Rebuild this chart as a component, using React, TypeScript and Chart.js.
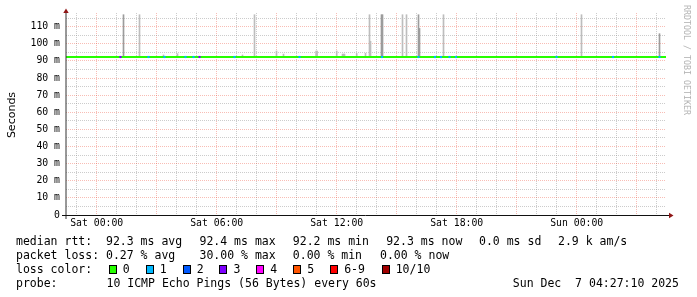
import React, { useEffect, useRef } from "react";
import { Chart, registerables } from "chart.js";

Chart.register(...registerables);

// ---------- data (hours relative to Sat 00:00, values in seconds) ----------
const rangeStartHour = -1.535;
const rangeEndHour = 28.465;

const xLabelHours = [0, 6, 12, 18, 24];
const xTickLabels = ["Sat 00:00", "Sat 06:00", "Sat 12:00", "Sat 18:00", "Sun 00:00"];

const yLabelValues = [0, 0.01, 0.02, 0.03, 0.04, 0.05, 0.06, 0.07, 0.08, 0.09, 0.1, 0.11];
const yTickLabels = ["0", "10 m", "20 m", "30 m", "40 m", "50 m", "60 m", "70 m", "80 m", "90 m", "100 m", "110 m"];
const yAxisMax = 0.118;

const medianHours = [-1.535, 6, 12, 18, 24, 28.465];
const medianSeconds = [0.0923, 0.0923, 0.0923, 0.0923, 0.0923, 0.0923];

const smokeDarkHours = [1.34, 14.24, 14.29, 16.09, 16.14, 28.14];
const smokeDarkLow = [0.0925, 0.0925, 0.0925, 0.0925, 0.0925, 0.0925];
const smokeDarkHigh = [0.117, 0.117, 0.117, 0.117, 0.109, 0.1059];

const smokeLightHours = [2.14, 3.34, 4.04, 7.29, 7.89, 8.99, 9.34, 10.97, 11.02, 12.0, 12.29, 12.34, 12.39, 13.0, 13.44, 13.64, 13.69, 15.29, 15.49, 17.34, 24.24];
const smokeLightLow = [0.0925, 0.0925, 0.0925, 0.0925, 0.0925, 0.0925, 0.0925, 0.0925, 0.0925, 0.0925, 0.0925, 0.0925, 0.0925, 0.0925, 0.0925, 0.0925, 0.0925, 0.0925, 0.0925, 0.0925, 0.0925];
const smokeLightHigh = [0.117, 0.0935, 0.0942, 0.0935, 0.117, 0.0958, 0.094, 0.0958, 0.0958, 0.0958, 0.094, 0.094, 0.094, 0.0943, 0.0945, 0.117, 0.1015, 0.117, 0.117, 0.117, 0.117];

const lossHours = [1.19, 2.59, 3.39, 4.44, 4.84, 5.14, 6.89, 10.14, 14.265, 16.09, 16.915, 17.215, 17.64, 17.965, 22.99, 25.815, 28.14];
const lossCounts = [3, 1, 1, 1, 1, 3, 1, 1, 1, 1, 1, 1, 1, 1, 1, 1, 1];
const lossMedian = [0.0923, 0.0923, 0.0923, 0.0923, 0.0923, 0.0923, 0.0923, 0.0923, 0.0923, 0.0923, 0.0923, 0.0923, 0.0923, 0.0923, 0.0923, 0.0923, 0.0923];

const lossColorLabels = ["0", "1", "2", "3", "4", "5", "6-9", "10/10"];
const lossColorHex = ["#26ff00", "#00b8ff", "#0059ff", "#7e00ff", "#ff00ff", "#ff5500", "#ff0000", "#a10000"];

const rttLegend = ["median rtt:  92.3 ms avg", "92.4 ms max", "92.2 ms min", "92.3 ms now", "0.0 ms sd", "2.9 k am/s"];
const lossLegend = ["packet loss: 0.27 % avg", "30.00 % max", "0.00 % min", "0.00 % now"];
const lossColorTitle = "loss color:";
const probeTitle = "probe:";
const probeText = "10 ICMP Echo Pings (56 Bytes) every 60s";
const dateText = "Sun Dec  7 04:27:10 2025";
const yTitle = "Seconds";
const watermark = "RRDTOOL / TOBI OETIKER";

// ---------- layout ----------
const W = 697;
const H = 297;
const MONO = '"DejaVu Sans Mono", monospace';
const GRID_GRAY = "rgba(143,143,143,0.45)";
const GRID_RED = "rgba(233,49,26,0.32)";

const rttX = [16, 199.5, 292.8, 386.2, 479, 558];
const lossX = [16, 199.5, 292.8, 380];
const boxX = [108.5, 145.5, 182.5, 219.2, 256, 293, 330, 381.5];

function lossIndex(c: number) {
  if (c >= 10) return 7;
  if (c >= 6) return 6;
  return c;
}

const axesPlugin = {
  id: "rrdAxes",
  afterDatasetsDraw(chart: any) {
    const { ctx, chartArea } = chart;
    const l = chartArea.left;
    const b = chartArea.bottom;
    const r = chartArea.right;
    const t = chartArea.top;
    ctx.save();
    ctx.strokeStyle = "#333";
    ctx.lineWidth = 1;
    ctx.beginPath();
    ctx.moveTo(l, b + 4);
    ctx.lineTo(l, t);
    ctx.stroke();
    ctx.strokeStyle = "#111";
    ctx.beginPath();
    ctx.moveTo(l - 4, b + 0.5);
    ctx.lineTo(r + 3, b + 0.5);
    ctx.stroke();
    ctx.fillStyle = "#8f1515";
    ctx.beginPath();
    ctx.moveTo(l, t - 4.5);
    ctx.lineTo(l - 2.7, t);
    ctx.lineTo(l + 2.7, t);
    ctx.closePath();
    ctx.fill();
    ctx.beginPath();
    ctx.moveTo(r + 7.5, b + 0.5);
    ctx.lineTo(r + 3, b - 2.3);
    ctx.lineTo(r + 3, b + 3.3);
    ctx.closePath();
    ctx.fill();
    ctx.restore();
  },
};

function ChartCanvas() {
  const ref = useRef<HTMLCanvasElement | null>(null);
  useEffect(() => {
    if (!ref.current) return;
    const medianData = medianHours.map((h, i) => ({ x: h, y: medianSeconds[i] }));
    const darkData = smokeDarkHours.map((h, i) => ({ x: h, y: [smokeDarkLow[i], smokeDarkHigh[i]] }));
    const lightData = smokeLightHours.map((h, i) => ({ x: h, y: [smokeLightLow[i], smokeLightHigh[i]] }));
    const lossData = lossHours.map((h, i) => ({ x: h, y: lossMedian[i] }));
    const lossColors = lossCounts.map((c) => lossColorHex[lossIndex(c)]);

    const chart = new Chart(ref.current, {
      type: "bar",
      data: {
        datasets: [
          {
            type: "scatter",
            data: lossData,
            pointStyle: "rect",
            pointRadius: 1.5,
            pointHoverRadius: 1.5,
            pointBackgroundColor: lossColors,
            pointBorderWidth: 0,
            order: 0,
          } as any,
          {
            type: "line",
            data: medianData,
            borderColor: "#26ff00",
            borderWidth: 2,
            pointRadius: 0,
            tension: 0,
            order: 1,
          } as any,
          {
            type: "bar",
            data: darkData,
            backgroundColor: "#9c9c9c",
            barThickness: 1,
            grouped: false,
            order: 2,
          } as any,
          {
            type: "bar",
            data: lightData,
            backgroundColor: "#bdbdbd",
            barThickness: 1,
            grouped: false,
            order: 3,
          } as any,
        ],
      },
      options: {
        animation: false,
        responsive: false,
        maintainAspectRatio: false,
        devicePixelRatio: 1,
        events: [],
        layout: { padding: { left: 0, right: 31, top: 13, bottom: 0 }, autoPadding: false } as any,
        plugins: { legend: { display: false }, tooltip: { enabled: false } },
        scales: {
          x: {
            type: "linear",
            position: "bottom",
            min: rangeStartHour,
            max: rangeEndHour,
            offset: false,
            grid: {
              offset: false,
              drawTicks: false,
              color: (c: any) => (c.tick && Math.round(c.tick.value) % 3 === 0 ? GRID_RED : GRID_GRAY),
            },
            border: { display: false, dash: [1, 1] },
            afterBuildTicks: (scale: any) => {
              const ticks = [];
              for (let h = Math.ceil(rangeStartHour); h <= Math.floor(rangeEndHour); h++) ticks.push({ value: h });
              scale.ticks = ticks;
            },
            afterFit: (scale: any) => {
              scale.height = 82;
            },
            ticks: {
              autoSkip: false,
              maxRotation: 0,
              minRotation: 0,
              padding: 3,
              color: "#000",
              font: { family: MONO, size: 9.8 },
              callback: (v: any) => {
                const i = xLabelHours.indexOf(Math.round(Number(v)));
                return i >= 0 && Math.abs(Number(v) - xLabelHours[i]) < 1e-6 ? xTickLabels[i] : "";
              },
            },
          },
          y: {
            type: "linear",
            position: "left",
            min: 0,
            max: yAxisMax,
            grid: {
              drawTicks: false,
              color: (c: any) => (c.tick && Math.round(c.tick.value * 1000) % 10 === 0 ? GRID_RED : GRID_GRAY),
            },
            border: { display: false, dash: [1, 1] },
            afterBuildTicks: (scale: any) => {
              const ticks = [];
              for (let k = 0; k * 0.005 <= yAxisMax + 1e-9; k++) ticks.push({ value: Math.round(k * 5) / 1000 });
              scale.ticks = ticks;
            },
            afterFit: (scale: any) => {
              scale.width = 66;
            },
            ticks: {
              autoSkip: false,
              padding: 6,
              color: "#000",
              font: { family: MONO, size: 9.8 },
              callback: (v: any) => {
                const i = yLabelValues.findIndex((y) => Math.abs(y - Number(v)) < 1e-9);
                return i >= 0 ? yTickLabels[i] : "";
              },
            },
          },
        },
      },
      plugins: [axesPlugin],
    });
    return () => chart.destroy();
  }, []);
  return <canvas ref={ref} width={W} height={H} style={{ position: "absolute", left: 0, top: 0, width: W, height: H }} />;
}

function Txt(props: { x: number; base: number; children: React.ReactNode }) {
  return (
    <div
      style={{
        position: "absolute",
        left: props.x,
        top: props.base - 10.98,
        font: `11.5px ${MONO}`,
        lineHeight: "14px",
        whiteSpace: "pre",
        color: "#000",
      }}
    >
      {props.children}
    </div>
  );
}

export default function App() {
  const b1 = 245.3;
  const b2 = 259.0;
  const b3 = 272.8;
  const b4 = 286.6;
  return (
    <div style={{ position: "fixed", left: 0, top: 0, width: W, height: H, background: "#fff", overflow: "hidden" }}>
      <ChartCanvas />
      <div style={{ position: "absolute", left: 16.7, top: 115, transform: "rotate(-90deg)", transformOrigin: "0 0" }}>
        <span
          style={{
            position: "absolute",
            left: 0,
            bottom: 0,
            transform: "translateX(-50%)",
            font: '11px "DejaVu Sans", sans-serif',
            lineHeight: "11px",
            whiteSpace: "nowrap",
            color: "#000",
          }}
        >
          {yTitle}
        </span>
      </div>
      <div style={{ position: "absolute", left: 683, top: 5, transform: "rotate(90deg)", transformOrigin: "0 0" }}>
        <span
          style={{
            position: "absolute",
            left: 0,
            bottom: 0,
            font: `8.3px ${MONO}`,
            lineHeight: "8.3px",
            whiteSpace: "nowrap",
            color: "#b4b4b4",
          }}
        >
          {watermark}
        </span>
      </div>
      {rttLegend.map((s, i) => (
        <Txt key={"r" + i} x={rttX[i]} base={b1}>
          {s}
        </Txt>
      ))}
      {lossLegend.map((s, i) => (
        <Txt key={"l" + i} x={lossX[i]} base={b2}>
          {s}
        </Txt>
      ))}
      <Txt x={16} base={b3}>
        {lossColorTitle}
      </Txt>
      {lossColorLabels.map((s, i) => (
        <React.Fragment key={"c" + i}>
          <div
            style={{
              position: "absolute",
              left: boxX[i],
              top: 265,
              width: 6,
              height: 7,
              border: "1px solid #000",
              background: lossColorHex[i],
            }}
          />
          <Txt x={boxX[i] + 14.2} base={b3}>
            {s}
          </Txt>
        </React.Fragment>
      ))}
      <Txt x={16} base={b4}>
        {probeTitle}
      </Txt>
      <Txt x={106.5} base={b4}>
        {probeText}
      </Txt>
      <Txt x={512.8} base={b4}>
        {dateText}
      </Txt>
    </div>
  );
}
